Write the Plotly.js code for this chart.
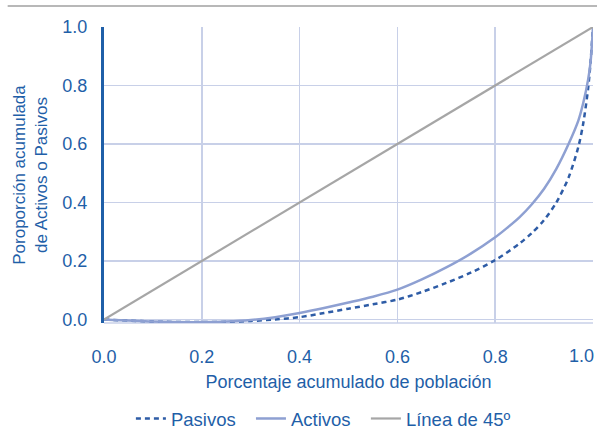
<!DOCTYPE html>
<html>
<head>
<meta charset="utf-8">
<script src="https://cdn.plot.ly/plotly-3.0.1.min.js"></script>
<style>html,body{margin:0;padding:0;background:#fff;}#chart{width:597px;height:440px;}</style>
</head>
<body>
<div id="chart"></div>
<script>
// Cumulative population share (x) and cumulative share of liabilities / assets (y)
var pasivosX = [0, 0.1, 0.2, 0.25, 0.3, 0.35, 0.4, 0.45, 0.5, 0.55, 0.6, 0.65, 0.7, 0.75, 0.8, 0.85, 0.875, 0.9, 0.925, 0.95, 0.97, 0.98, 0.99, 0.995, 1.0];
var pasivosY = [0, -0.007, -0.009, -0.008, -0.005, 0.0, 0.008, 0.022, 0.037, 0.052, 0.068, 0.094, 0.125, 0.16, 0.203, 0.26, 0.296, 0.34, 0.4, 0.485, 0.59, 0.67, 0.79, 0.88, 1.0];

var activosX = [0, 0.1, 0.2, 0.25, 0.3, 0.35, 0.4, 0.45, 0.5, 0.55, 0.6, 0.65, 0.7, 0.75, 0.8, 0.825, 0.85, 0.875, 0.9, 0.925, 0.95, 0.97, 0.98, 0.99, 0.995, 1.0];
var activosY = [0, -0.007, -0.009, -0.007, -0.002, 0.008, 0.022, 0.039, 0.058, 0.078, 0.102, 0.137, 0.178, 0.225, 0.281, 0.314, 0.35, 0.394, 0.447, 0.515, 0.6, 0.68, 0.74, 0.82, 0.88, 1.0];

var lineaX = [0, 1];
var lineaY = [0, 1];

var seriesNames = ['Pasivos', 'Activos', 'Línea de 45º'];

var tickVals = [0, 0.2, 0.4, 0.6, 0.8, 1.0];
var tickText = ["0.0", "0.2", "0.4", "0.6", "0.8", "1.0"];

var blueText = '#1f5fa8';
var font = 'Liberation Sans, Arial, sans-serif';
var pad = '\u00a0\u00a0';

// the last x label is drawn as an annotation so it is shifted inside the page, as in the reference
var xTickTextShown = tickText.slice(0, tickText.length - 1).concat(['']);

var traces = [
  {x: pasivosX, y: pasivosY, name: seriesNames[0] + pad, type: 'scatter', mode: 'lines',
   line: {color: '#2e5ca6', width: 2.5, dash: '5px,4px', shape: 'spline', smoothing: 0.8}},
  {x: activosX, y: activosY, name: seriesNames[1] + pad, type: 'scatter', mode: 'lines',
   line: {color: '#8ea0d2', width: 2.5, shape: 'spline', smoothing: 0.8}},
  {x: lineaX, y: lineaY, name: seriesNames[2], type: 'scatter', mode: 'lines',
   line: {color: '#a6a6a6', width: 2.2}}
];

var layout = {
  width: 597, height: 440,
  margin: {l: 104, r: 4, t: 27, b: 117, autoexpand: false},
  paper_bgcolor: '#ffffff', plot_bgcolor: '#ffffff',
  font: {family: font, color: blueText, size: 17},
  showlegend: true,
  legend: {orientation: 'h', x: 0.055, xanchor: 'left', y: -0.26, yanchor: 'top',
           font: {family: font, size: 18.5, color: blueText}, tracegroupgap: 0},
  xaxis: {
    range: [0, 1], tickvals: tickVals, ticktext: xTickTextShown,
    showgrid: true, gridcolor: '#c8d0e8', gridwidth: 1.5,
    zeroline: false, showline: false, ticks: '', ticklabelstandoff: 21,
    tickfont: {family: font, size: 18, color: blueText},
    title: {text: 'Porcentaje acumulado de población', font: {family: font, size: 18, color: blueText}, standoff: 9}
  },
  yaxis: {
    range: [-0.012, 1.0], tickvals: tickVals, ticktext: tickText,
    showgrid: true, gridcolor: '#c8d0e8', gridwidth: 1.5,
    zeroline: false, showline: true, linecolor: '#1f5fa8', linewidth: 3,
    ticks: '', ticklabelstandoff: 10,
    tickfont: {family: font, size: 18, color: blueText},
    title: {text: 'Poroporción acumulada<br>de Activos o Pasivos', font: {family: font, size: 17, color: blueText}, standoff: 11}
  },
  annotations: [
    {x: tickVals[tickVals.length - 1], xref: 'x', y: 0, yref: 'paper', yshift: -21,
     text: tickText[tickText.length - 1], showarrow: false, xanchor: 'right', yanchor: 'top',
     xshift: 3, font: {family: font, size: 18, color: blueText}}
  ],
  shapes: [
    {type: 'line', xref: 'paper', yref: 'paper', x0: 0, x1: 1, y0: 0.0, y1: 0.0,
     line: {color: '#c8d0e8', width: 1.5}, layer: 'below'},
    {type: 'line', xref: 'paper', yref: 'paper', x0: -0.197, x1: 1.01, y0: 1.071, y1: 1.071,
     line: {color: '#a0a0a0', width: 1.5}}
  ]
};

Plotly.newPlot('chart', traces, layout, {displayModeBar: false, staticPlot: true});
</script>
</body>
</html>
